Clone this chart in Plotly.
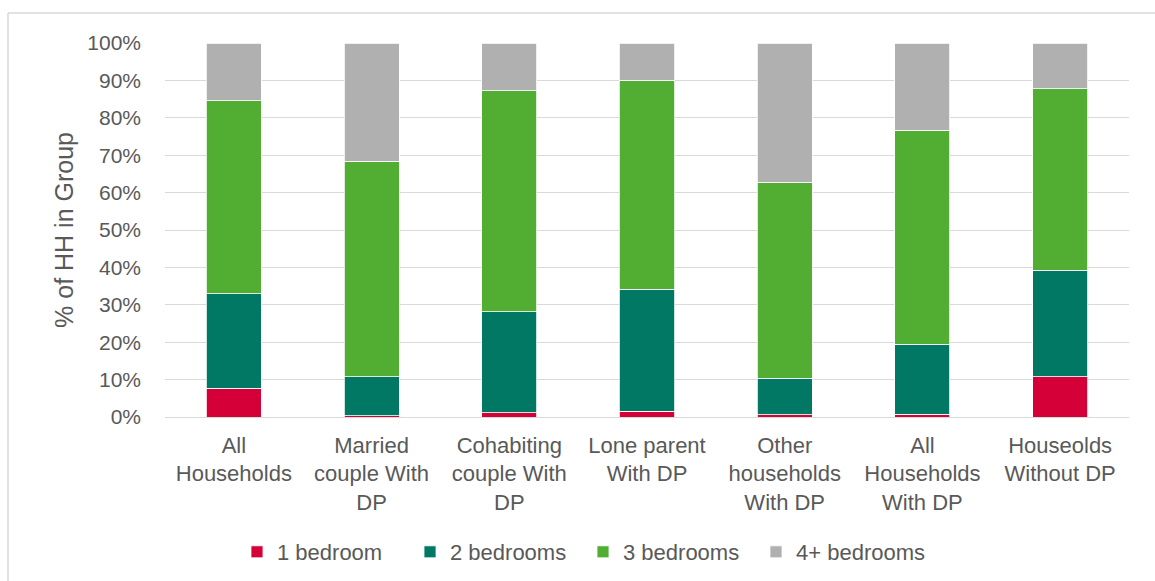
import plotly.graph_objects as go

categories = ["All<br>Households", "Married<br>couple With<br>DP", "Cohabiting<br>couple With<br>DP",
              "Lone parent<br>With DP", "Other<br>households<br>With DP", "All<br>Households<br>With DP",
              "Houseolds<br>Without DP"]
one_bed = [7.7, 0.4, 1.2, 1.6, 0.6, 0.8, 10.8]
two_bed = [25.2, 10.3, 26.9, 32.6, 9.8, 18.7, 28.5]
three_bed = [51.6, 57.7, 59.1, 55.9, 52.4, 57.2, 48.5]
four_bed = [15.5, 31.6, 12.8, 9.9, 37.2, 23.3, 12.2]
series_names = ["1 bedroom", "2 bedrooms", "3 bedrooms", "4+ bedrooms"]
colors = ["#D50037", "#007864", "#52AE32", "#B0B0B0"]
y_ticks = list(range(0, 101, 10))

W, H = 1155, 581
L, R, T, B = 165, 26, 43, 164
pw, ph = W - L - R, H - T - B

fig = go.Figure()
for name, vals, col in zip(series_names, [one_bed, two_bed, three_bed, four_bed], colors):
    fig.add_trace(go.Bar(x=categories, y=[v / 100 for v in vals], name=name,
                         marker=dict(color=col, line=dict(color="white", width=0.8))))

font = "Liberation Sans, Arial, sans-serif"
gray = "#595959"

def px2paper_x(px):
    return (px - L) / pw

def px2paper_y(py):
    return (H - B - py) / ph

fig.update_layout(
    barmode="stack",
    bargap=0.6,
    width=W, height=H,
    margin=dict(l=L, r=R, t=T, b=B, autoexpand=False),
    paper_bgcolor="white", plot_bgcolor="white",
    font=dict(family=font, color=gray, size=20),
    legend=dict(orientation="h", xref="container", x=583 / W, xanchor="center",
                yref="container", y=(H - 552) / H, yanchor="middle",
                font=dict(size=22, color=gray), traceorder="normal", itemwidth=30,
                entrywidth=128),
    shapes=[
        dict(type="line", xref="paper", yref="paper", x0=px2paper_x(8), x1=px2paper_x(8),
             y0=px2paper_y(13), y1=px2paper_y(581), line=dict(color="#D9D9D9", width=1.5)),
        dict(type="line", xref="paper", yref="paper", x0=px2paper_x(8), x1=px2paper_x(1155),
             y0=px2paper_y(13), y1=px2paper_y(13), line=dict(color="#D9D9D9", width=1.5)),
    ],
)
fig.update_yaxes(range=[0, 1], tickvals=[v / 100 for v in y_ticks],
                 ticktext=[f"{v}%" for v in y_ticks],
                 gridcolor="#D9D9D9", gridwidth=1.3, zeroline=False, showline=False,
                 ticks="", ticklabelstandoff=23, tickfont=dict(size=21, color=gray),
                 title=dict(text="% of HH in Group", font=dict(size=25, color=gray), standoff=6))
fig.update_xaxes(showline=True, linecolor="#D9D9D9", linewidth=1.3, ticks="",
                 tickfont=dict(size=22, color=gray), ticklabelstandoff=8)

fig.write_html("out.html")
